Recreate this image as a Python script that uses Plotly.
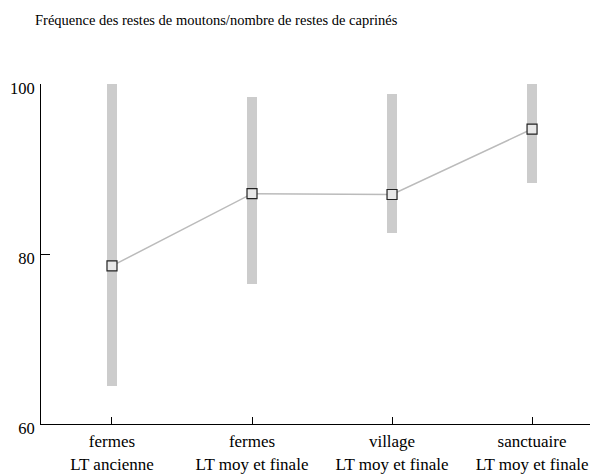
import plotly.graph_objects as go

categories = ["fermes<br>LT ancienne", "fermes<br>LT moy et finale", "village<br>LT moy et finale", "sanctuaire<br>LT moy et finale"]
mean_vals = [78.6, 87.1, 87.0, 94.7]
low_vals = [64.5, 76.5, 82.5, 88.3]
high_vals = [100.0, 98.5, 98.8, 100.0]

FONT = "Liberation Serif"
xs = list(range(len(categories)))

W, H = 590, 468

fig = go.Figure()
fig.add_trace(go.Bar(
    x=xs, y=[h - l for h, l in zip(high_vals, low_vals)], base=low_vals,
    width=0.072, marker=dict(color="#cccccc", line=dict(width=0)),
    showlegend=False, hoverinfo="skip"))
fig.add_trace(go.Scatter(
    x=xs, y=mean_vals, mode="lines+markers",
    line=dict(color="#bbbbbb", width=1.5),
    marker=dict(symbol="square", size=10, color="#e8e8e8",
                line=dict(color="#222222", width=1.2)),
    showlegend=False))

fig.update_layout(
    width=W, height=H,
    margin=dict(l=33, r=0, t=76, b=52, autoexpand=False),
    plot_bgcolor="white", paper_bgcolor="white",
    font=dict(family=FONT, size=15, color="black"),
    title=dict(text="Fréquence des restes de moutons/nombre de restes de caprinés",
               xref="container", x=27/W, xanchor="left",
               yref="container", y=1-12/H, yanchor="middle",
               font=dict(family=FONT, size=14.5, color="black")),
    bargap=0,
)
fig.update_xaxes(
    tickmode="array", tickvals=xs, ticktext=categories,
    range=[-0.507, 3.471], showgrid=False, zeroline=False,
    showline=True, linecolor="black", linewidth=1,
    ticks="inside", ticklen=7, tickcolor="black", tickwidth=1,
    ticklabelstandoff=2, automargin=False,
    tickfont=dict(family=FONT, size=17))
fig.update_yaxes(
    range=[60, 100], tickvals=[60, 80, 100], showgrid=False, zeroline=False,
    showline=True, linecolor="black", linewidth=1,
    ticks="inside", ticklen=9, tickcolor="black", tickwidth=1,
    ticklabelstandoff=2, ticklabelshift=4, automargin=False,
    tickfont=dict(family=FONT, size=16.5))

fig.write_html("out.html")
